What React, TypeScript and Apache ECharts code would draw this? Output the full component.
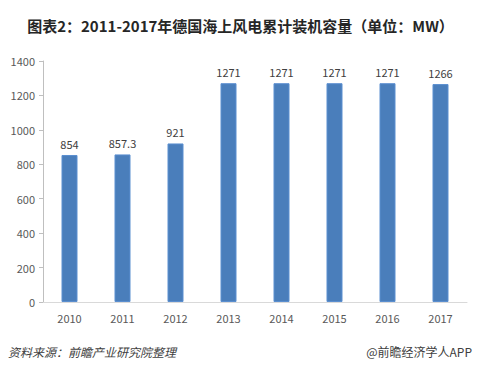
import React, { useEffect, useRef } from "react";
import * as echarts from "echarts";

const categories = ["2010", "2011", "2012", "2013", "2014", "2015", "2016", "2017"];
const values = [854, 857.3, 921, 1271, 1271, 1271, 1271, 1266];
const yTicks = [0, 200, 400, 600, 800, 1000, 1200, 1400];

const titleText = "图表2：2011-2017年德国海上风电累计装机容量（单位：MW）";
const sourceText = "资料来源：前瞻产业研究院整理";
const brandText = "@前瞻经济学人APP";

export default function App() {
  const ref = useRef<HTMLDivElement>(null);
  useEffect(() => {
    if (!ref.current) return;
    const chart = echarts.init(ref.current, undefined, { renderer: "svg" });
    const font = "'Microsoft YaHei', 'Noto Sans CJK SC', sans-serif";
    chart.setOption({
      animation: false,
      backgroundColor: "#ffffff",
      textStyle: { fontFamily: font },
      title: {
        text: titleText,
        left: "center",
        top: 13,
        textStyle: { fontSize: 15, fontWeight: "bold", color: "#262626", fontFamily: font },
      },
      grid: { left: 43, right: 14, top: 61, bottom: 71, containLabel: false },
      xAxis: {
        type: "category",
        data: categories,
        axisLine: { show: true, lineStyle: { color: "#d9d9d9" } },
        axisTick: { show: false },
        axisLabel: { color: "#595959", fontSize: 11, margin: 10, fontFamily: font },
      },
      yAxis: {
        type: "value",
        min: yTicks[0],
        max: yTicks[yTicks.length - 1],
        interval: 200,
        axisLine: { show: true, lineStyle: { color: "#bfbfbf" } },
        axisTick: { show: true, length: 4, lineStyle: { color: "#bfbfbf" } },
        splitLine: { show: false },
        axisLabel: {
          color: "#595959",
          fontSize: 11,
          margin: 8,
          fontFamily: font,
          formatter: (v: number) => String(v),
        },
      },
      series: [
        {
          type: "bar",
          data: values,
          barWidth: 16,
          itemStyle: { color: "#4a7ebb", borderColor: "#5b8fd0", borderWidth: 1 },
          label: {
            show: true,
            position: "top",
            distance: 6,
            color: "#404040",
            fontSize: 11,
            fontFamily: font,
          },
        },
      ],
      graphic: [
        {
          type: "text",
          left: 8,
          top: 345,
          style: {
            text: sourceText,
            fontSize: 12,
            fontStyle: "italic",
            fill: "#404040",
            fontFamily: font,
          },
        },
        {
          type: "text",
          right: 9,
          top: 345,
          style: {
            text: brandText,
            fontSize: 12,
            fill: "#404040",
            fontFamily: font,
          },
        },
      ],
    });
    return () => chart.dispose();
  }, []);
  return <div ref={ref} style={{ width: 481, height: 373, position: "absolute", left: 0, top: 0 }} />;
}
